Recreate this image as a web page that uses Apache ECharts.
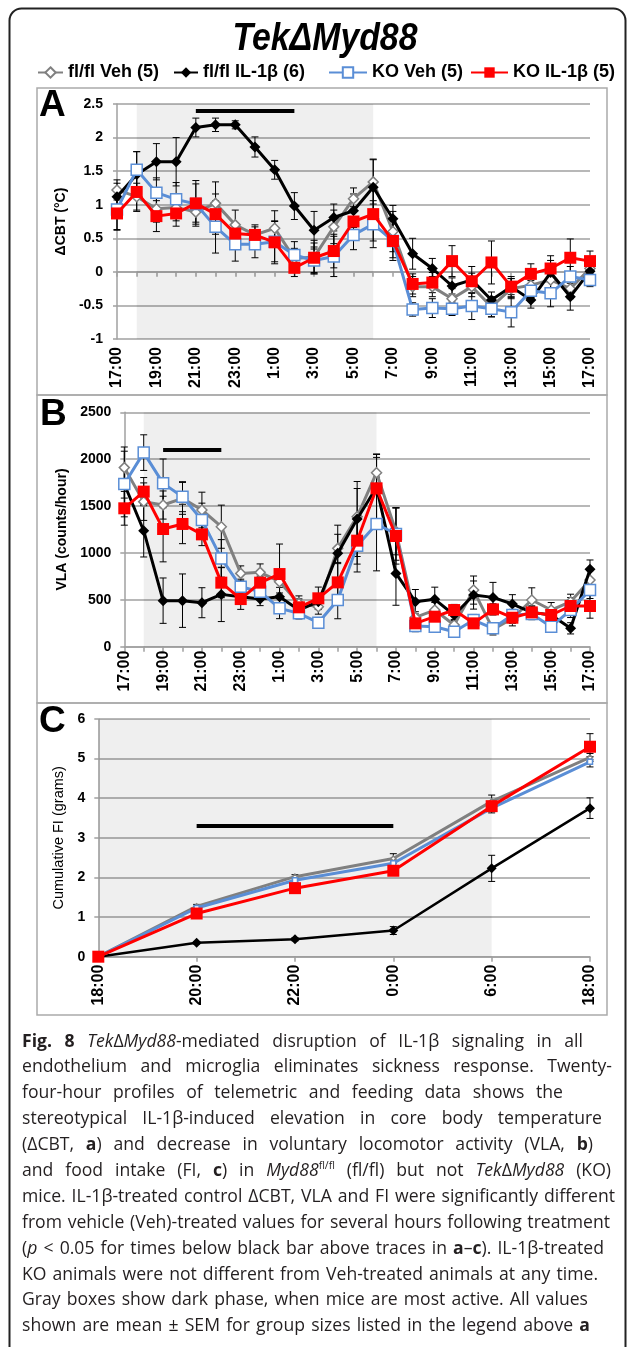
<!DOCTYPE html>
<html>
<head>
<meta charset="utf-8">
<script src="https://cdn.jsdelivr.net/npm/echarts@6/dist/echarts.min.js"></script>
<style>
html,body{margin:0;padding:0;background:#fff;}
#chart{position:absolute;left:0;top:0;width:627px;height:1347px;}
#caption{position:absolute;left:22px;top:1027.5px;font-family:"Open Sans","Noto Sans",sans-serif;font-size:17.6px;line-height:25.9px;color:#231f20;}
#caption .ln{white-space:nowrap;height:25.9px;}
#caption b{font-weight:700;}
#caption sup{font-size:10.5px;line-height:0;vertical-align:7px;}
</style>
</head>
<body>
<div id="chart"></div>
<div id="caption">
<div class="ln"><span><b>Fig. 8</b> <i>Tek</i>Δ<i>Myd88</i>-mediated disruption of IL-1β signaling in all</span></div>
<div class="ln"><span>endothelium and microglia eliminates sickness response. Twenty-</span></div>
<div class="ln"><span>four-hour profiles of telemetric and feeding data shows the</span></div>
<div class="ln"><span>stereotypical IL-1β-induced elevation in core body temperature</span></div>
<div class="ln"><span>(ΔCBT, <b>a</b>) and decrease in voluntary locomotor activity (VLA, <b>b</b>)</span></div>
<div class="ln"><span>and food intake (FI, <b>c</b>) in <i>Myd88</i><sup>fl/fl</sup> (fl/fl) but not <i>Tek</i>Δ<i>Myd88</i> (KO)</span></div>
<div class="ln"><span>mice. IL-1β-treated control ΔCBT, VLA and FI were significantly different</span></div>
<div class="ln"><span>from vehicle (Veh)-treated values for several hours following treatment</span></div>
<div class="ln"><span>(<i>p</i> &lt; 0.05 for times below black bar above traces in <b>a</b>–<b>c</b>). IL-1β-treated</span></div>
<div class="ln"><span>KO animals were not different from Veh-treated animals at any time.</span></div>
<div class="ln"><span>Gray boxes show dark phase, when mice are most active. All values</span></div>
<div class="ln"><span>shown are mean ± SEM for group sizes listed in the legend above <b>a</b></span></div>
</div>
<script>
// ---------------- DATA ----------------
const hours = ['17:00','18:00','19:00','20:00','21:00','22:00','23:00','0:00','1:00','2:00','3:00','4:00','5:00','6:00','7:00','8:00','9:00','10:00','11:00','12:00','13:00','14:00','15:00','16:00','17:00'];
const fiCats = ['18:00','20:00','22:00','0:00','6:00','18:00'];
const seriesNames = ['fl/fl Veh (5)','fl/fl IL-1β (6)','KO Veh (5)','KO IL-1β (5)'];

// Panel A: delta core body temperature (°C)
const cbtFlVeh = [1.22,1.12,0.94,0.96,0.89,1.02,0.70,0.55,0.65,0.20,0.22,0.67,1.09,1.34,0.60,-0.22,-0.22,-0.40,-0.22,-0.52,-0.25,-0.20,-0.12,-0.25,0.05];
const cbtFlIL  = [1.12,1.45,1.64,1.64,2.15,2.19,2.19,1.86,1.52,0.98,0.62,0.81,0.91,1.26,0.79,0.27,0.05,-0.21,-0.12,-0.42,-0.22,-0.42,-0.01,-0.37,0.01];
const cbtKoVeh = [0.93,1.52,1.18,1.08,1.01,0.67,0.41,0.41,0.45,0.25,0.17,0.23,0.55,0.71,0.46,-0.56,-0.54,-0.55,-0.51,-0.55,-0.60,-0.28,-0.32,-0.07,-0.12];
const cbtKoIL  = [0.87,1.19,0.83,0.87,1.02,0.86,0.57,0.55,0.44,0.06,0.21,0.31,0.75,0.86,0.46,-0.18,-0.16,0.16,-0.14,0.14,-0.22,-0.03,0.05,0.21,0.16];
const cbtFlVehSem = [0.15,0.20,0.20,0.20,0.15,0.32,0.22,0.12,0.26,0.15,0.25,0.25,0.16,0.33,0.30,0.15,0.15,0.15,0.15,0.15,0.15,0.15,0.15,0.15,0.15];
const cbtFlILSem  = [0.20,0.34,0.27,0.36,0.14,0.10,0.06,0.15,0.14,0.20,0.28,0.20,0.25,0.42,0.20,0.23,0.15,0.12,0.20,0.12,0.12,0.12,0.25,0.20,0.10];
const cbtKoVehSem = [0.30,0.27,0.22,0.25,0.30,0.39,0.25,0.20,0.30,0.20,0.20,0.30,0.22,0.35,0.29,0.10,0.14,0.10,0.20,0.12,0.22,0.15,0.20,0.15,0.10];
const cbtKoILSem  = [0.25,0.29,0.23,0.19,0.34,0.30,0.14,0.15,0.32,0.13,0.22,0.25,0.22,0.40,0.25,0.15,0.15,0.23,0.12,0.32,0.15,0.15,0.12,0.28,0.15];

// Panel B: voluntary locomotor activity (counts/hour)
const vlaFlVeh = [1910,1547,1511,1582,1458,1280,782,793,693,462,427,1049,1387,1856,1230,313,391,231,604,185,302,498,391,480,711];
const vlaFlIL  = [1735,1237,491,491,469,558,533,508,533,391,480,996,1362,1700,782,480,505,338,551,526,455,366,338,196,825];
const vlaKoVeh = [1735,2070,1742,1600,1351,942,640,587,409,356,256,498,1077,1309,1202,220,213,160,284,196,338,348,213,391,604];
const vlaKoIL  = [1476,1654,1255,1309,1198,683,508,683,775,420,516,686,1131,1689,1181,249,320,391,249,398,309,366,338,434,434];
const vlaFlVehSem = [220,200,150,170,190,230,80,90,120,80,80,150,300,200,250,60,80,60,150,60,80,130,80,80,100];
const vlaFlILSem  = [350,280,242,285,160,290,60,70,100,80,80,300,400,350,340,130,130,60,150,160,100,70,80,60,100];
const vlaKoVehSem = [150,190,260,160,180,200,80,60,110,60,50,200,280,500,280,60,40,40,60,40,60,60,40,80,90];
const vlaKoILSem  = [180,150,350,210,120,160,110,70,320,90,120,200,250,330,300,60,60,60,40,60,60,60,60,90,130];

// Panel C: cumulative food intake (grams)
const fiFlVeh = [0,1.27,2.02,2.48,3.92,5.03];
const fiFlIL  = [0,0.35,0.44,0.66,2.23,3.75];
const fiKoVeh = [0,1.23,1.93,2.36,3.75,4.92];
const fiKoIL  = [0,1.09,1.73,2.17,3.80,5.30];
const fiFlVehSem = [0,0.05,0.05,0.12,0.16,0.10];
const fiFlILSem  = [0,0.03,0.04,0.10,0.33,0.26];
const fiKoVehSem = [0,0.04,0.05,0.08,0.12,0.13];
const fiKoILSem  = [0,0.04,0.05,0.06,0.10,0.33];

// axis ranges [min, max, step]
const cbtTicks = [-1, 2.5, 0.5];
const vlaTicks = [0, 2500, 500];
const fiTicks  = [0, 6, 1];
// dark phase (category index range)
const darkAB = [1, 13];
const darkC  = [0, 4];
// significance bars [fromIndex, toIndex, yValue]
const sigA = [4, 9, 2.4];
const sigB = [2, 5, 2100];
const sigC = [1, 3, 3.3];

// ---------------- CHART ----------------
const FONT = '"Liberation Sans", Arial, sans-serif';
const GRID_C = '#a0a0a0';
const colors = ['#808080', '#000000', '#5a8ed6', '#ff0000'];

function styleFor(k, small) {
  const c = colors[k];
  if (k === 0) return {symbol:'diamond', symbolSize: small ? 5 : 10, itemStyle:{color:'#fff', borderColor:c, borderWidth:1.5}, lineStyle:{color:c, width:3}};
  if (k === 1) return {symbol:'diamond', symbolSize: small ? 10 : 11, itemStyle:{color:c, borderColor:c, borderWidth:0}, lineStyle:{color:c, width: small ? 2.5 : 3}};
  if (k === 2) return {symbol:'rect', symbolSize: small ? 5 : 11, itemStyle:{color:'#fff', borderColor:c, borderWidth:1.5}, lineStyle:{color:c, width:3}};
  return {symbol:'rect', symbolSize: 12, itemStyle:{color:c, borderColor:c, borderWidth:0}, lineStyle:{color:c, width:3}};
}

function errSeries(xi, yi, groups) {
  const data = [];
  groups.forEach(g => g[0].forEach((v, i) => { if (g[1][i] > 0) data.push([i, v, g[1][i]]); }));
  return {
    type:'custom', xAxisIndex:xi, yAxisIndex:yi, silent:true, z:1,
    encode:{x:0, y:1},
    data: data,
    renderItem: function (params, api) {
      const x = api.value(0), m = api.value(1), e = api.value(2);
      const t = api.coord([x, m + e]), b = api.coord([x, m - e]);
      const hw = 3.5, st = {stroke:'#000', lineWidth:1};
      return {type:'group', children:[
        {type:'line', shape:{x1:t[0], y1:t[1], x2:b[0], y2:b[1]}, style:st},
        {type:'line', shape:{x1:t[0]-hw, y1:t[1], x2:t[0]+hw, y2:t[1]}, style:st},
        {type:'line', shape:{x1:b[0]-hw, y1:b[1], x2:b[0]+hw, y2:b[1]}, style:st}
      ]};
    }
  };
}

function lineSeriesSet(xi, yi, vals, small, dark, sig) {
  return vals.map((v, k) => {
    const s = Object.assign({
      name: seriesNames[k], type:'line', xAxisIndex:xi, yAxisIndex:yi, data:v, z:3 + k
    }, styleFor(k, small));
    if (k === 0) {
      s.markArea = {silent:true, itemStyle:{color:'rgba(0,0,0,0.062)'}, data:[[{xAxis:dark[0]}, {xAxis:dark[1]}]]};
      s.markLine = {silent:true, symbol:['none','none'], label:{show:false}, lineStyle:{color:'#000', width:4, type:'solid'},
        data:[[{coord:[sig[0], sig[2]]}, {coord:[sig[1], sig[2]]}]]};
    }
    return s;
  });
}

function yAx(gi, ticks, name, gap, margin, bold) {
  return {
    type:'value', gridIndex:gi, min:ticks[0], max:ticks[1], interval:ticks[2],
    axisLine:{show:true, lineStyle:{color:GRID_C, width:1.5}},
    axisTick:{show:true, length:4, lineStyle:{color:GRID_C, width:1.5}},
    splitLine:{show:true, lineStyle:{color:GRID_C, width:1.5}},
    axisLabel:{color:'#000', fontSize:14, fontWeight:'bold', margin:margin, fontFamily:FONT, formatter: v => String(v)},
    name:name, nameLocation:'middle', nameGap:gap,
    nameTextStyle:{color:'#000', fontSize: bold ? 14 : 14.5, fontWeight: bold ? 'bold' : 'normal', fontFamily:FONT}
  };
}

const xLabel = {color:'#000', fontSize:16, fontWeight:'bold', rotate:90, fontFamily:FONT};

const option = {
  animation:false,
  textStyle:{fontFamily:FONT},
  grid:[
    {left:117, top:104, width:473, height:235, containLabel:false, outerBoundsMode:'none'},
    {left:124.3, top:412.3, width:465.7, height:234.4, containLabel:false, outerBoundsMode:'none'},
    {left:98.3, top:719, width:491.7, height:237.7, containLabel:false, outerBoundsMode:'none'}
  ],
  xAxis:[
    {type:'category', gridIndex:0, data:hours, boundaryGap:false, position:'bottom',
      axisLine:{show:false, onZero:false}, axisTick:{show:false}, splitLine:{show:false},
      axisLabel:Object.assign({interval:1, margin:8}, xLabel)},
    {type:'category', gridIndex:0, data:hours, boundaryGap:false, position:'bottom',
      axisLine:{show:true, onZero:true, lineStyle:{color:GRID_C, width:1.5}},
      axisTick:{show:true, interval:0, length:5, lineStyle:{color:GRID_C, width:1.5}},
      axisLabel:{show:false}, splitLine:{show:false}},
    {type:'category', gridIndex:1, data:hours, boundaryGap:false, position:'bottom',
      axisLine:{show:true, onZero:false, lineStyle:{color:GRID_C, width:1.5}},
      axisTick:{show:true, interval:0, length:5, lineStyle:{color:GRID_C, width:1.5}},
      axisLabel:Object.assign({interval:1, margin:4}, xLabel), splitLine:{show:false}},
    {type:'category', gridIndex:2, data:fiCats, boundaryGap:false, position:'bottom',
      axisLine:{show:true, onZero:false, lineStyle:{color:GRID_C, width:1.5}},
      axisTick:{show:true, interval:0, length:5, lineStyle:{color:GRID_C, width:1.5}},
      axisLabel:Object.assign({interval:0, margin:8}, xLabel), splitLine:{show:false}}
  ],
  yAxis:[
    yAx(0, cbtTicks, 'ΔCBT (°C)', 44, 14, true),
    yAx(1, vlaTicks, 'VLA (counts/hour)', 51, 13, true),
    yAx(2, fiTicks, 'Cumulative FI (grams)', 27, 13, false)
  ],
  legend: seriesNames.map((n, i) => ({
    data:[n], left:[37,173,328,470][i], top:63.5, padding:0, itemGap:0,
    itemWidth:[25,24,38,37][i], itemHeight:13, selectedMode:false,
    textStyle:{color:'#000', fontSize:18, fontWeight:'bold', fontFamily:FONT}
  })),
  graphic:[
    {type:'rect', shape:{x:9.5, y:8.5, width:616, height:1400, r:12}, style:{fill:null, stroke:'#222', lineWidth:2}, silent:true},
    {type:'rect', shape:{x:37, y:88, width:570, height:307}, style:{fill:null, stroke:'#aaa', lineWidth:1.5}, silent:true},
    {type:'rect', shape:{x:37, y:395, width:570, height:308}, style:{fill:null, stroke:'#aaa', lineWidth:1.5}, silent:true},
    {type:'rect', shape:{x:37, y:703, width:570, height:312}, style:{fill:null, stroke:'#aaa', lineWidth:1.5}, silent:true},
    {type:'text', x:325, y:40, scaleX:0.89, silent:true,
      style:{text:'TekΔMyd88', font:'italic bold 38px "Liberation Sans", Arial, sans-serif', fill:'#000', align:'center', verticalAlign:'middle'}},
    {type:'text', x:39, y:106, silent:true, style:{text:'A', font:'bold 37px "Liberation Sans", Arial, sans-serif', fill:'#000', align:'left', verticalAlign:'middle'}},
    {type:'text', x:40, y:415, silent:true, style:{text:'B', font:'bold 37px "Liberation Sans", Arial, sans-serif', fill:'#000', align:'left', verticalAlign:'middle'}},
    {type:'text', x:39, y:721.5, silent:true, style:{text:'C', font:'bold 37px "Liberation Sans", Arial, sans-serif', fill:'#000', align:'left', verticalAlign:'middle'}}
  ],
  series:[].concat(
    [errSeries(0, 0, [[cbtFlVeh,cbtFlVehSem],[cbtFlIL,cbtFlILSem],[cbtKoVeh,cbtKoVehSem],[cbtKoIL,cbtKoILSem]])],
    lineSeriesSet(0, 0, [cbtFlVeh, cbtFlIL, cbtKoVeh, cbtKoIL], false, darkAB, sigA),
    [errSeries(2, 1, [[vlaFlVeh,vlaFlVehSem],[vlaFlIL,vlaFlILSem],[vlaKoVeh,vlaKoVehSem],[vlaKoIL,vlaKoILSem]])],
    lineSeriesSet(2, 1, [vlaFlVeh, vlaFlIL, vlaKoVeh, vlaKoIL], false, darkAB, sigB),
    [errSeries(3, 2, [[fiFlVeh,fiFlVehSem],[fiFlIL,fiFlILSem],[fiKoVeh,fiKoVehSem],[fiKoIL,fiKoILSem]])],
    lineSeriesSet(3, 2, [fiFlVeh, fiFlIL, fiKoVeh, fiKoIL], true, darkC, sigC)
  )
};

const chart = echarts.init(document.getElementById('chart'), null, {renderer:'canvas'});
chart.setOption(option);

// caption line fitting (word spacing) to match reference line endings
const capRights = [583,612,563,602,593,611,615,610,604,598,588,590];
function fitCaption() {
  const spans = document.querySelectorAll('#caption .ln > span');
  spans.forEach((sp, k) => {
    sp.style.wordSpacing = '0px'; sp.style.letterSpacing = '0px';
    const w = sp.getBoundingClientRect().width;
    const target = capRights[k] - 22;
    const txt = sp.textContent;
    const n = (txt.match(/ /g) || []).length;
    let ws = (target - w) / Math.max(n, 1);
    if (ws < -1.2) {
      const ls = (target - w) / Math.max(txt.length - 1, 1);
      sp.style.letterSpacing = ls.toFixed(3) + 'px';
    } else {
      sp.style.wordSpacing = ws.toFixed(3) + 'px';
    }
  });
}
if (document.fonts && document.fonts.ready) { document.fonts.ready.then(fitCaption); } else { fitCaption(); }
fitCaption();
</script>
</body>
</html>
